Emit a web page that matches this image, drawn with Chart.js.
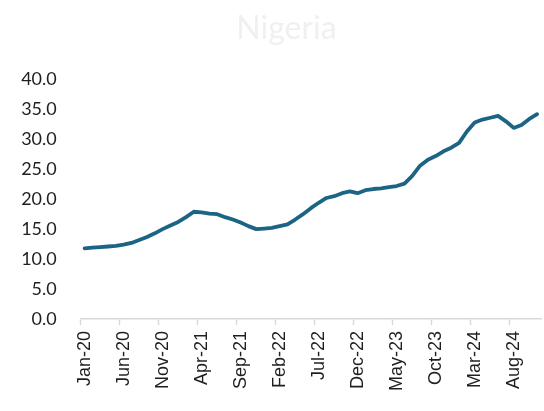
<!DOCTYPE html>
<html>
<head>
<meta charset="utf-8">
<script src="https://cdn.jsdelivr.net/npm/chart.js@4"></script>
<style>
  html, body { margin: 0; padding: 0; background: #fff; }
  #wrap { width: 544px; height: 411px; }
</style>
</head>
<body>
<div id="wrap"><canvas id="chart" width="544" height="411"></canvas></div>
<script>
// monthly categories, Jan-20 .. Nov-24
var months = ["Jan", "Feb", "Mar", "Apr", "May", "Jun", "Jul", "Aug", "Sep", "Oct", "Nov", "Dec"];
var years = ["20", "21", "22", "23", "24"];
var categories = [];
years.forEach(function (y) {
    months.forEach(function (m) {
        categories.push(m + "-" + y);
    });
});
categories = categories.slice(0, 59);

// values
var inflation = [
    11.8, 11.9, 12.0, 12.1, 12.2, 12.4, 12.7, 13.2, 13.7, 14.3, 15.0, 15.6,
    16.2, 17.0, 17.9, 17.8, 17.6, 17.5, 17.0, 16.6, 16.1, 15.5, 15.0, 15.1,
    15.2, 15.5, 15.8, 16.6, 17.5, 18.5, 19.4, 20.2, 20.5, 21.0, 21.3, 21.0,
    21.5, 21.7, 21.8, 22.0, 22.2, 22.6, 23.9, 25.6, 26.6, 27.2, 28.0, 28.6,
    29.4, 31.3, 32.8, 33.3, 33.6, 33.9, 33.0, 31.9, 32.4, 33.4, 34.2
];

// every 5th month gets a label
var labelEvery = 5;

// title sits a little right of the canvas centre in the original
var shiftTitle = {
    id: "shiftTitle",
    afterLayout: function (chart) {
        if (chart.titleBlock)
            chart.titleBlock.left += 32;
    }
};

var ctx = document.getElementById("chart").getContext("2d");

new Chart(ctx, {
    type: "line",
    data: {
        labels: categories,
        datasets: [{
            label: "Nigeria",
            data: inflation,
            borderColor: "#1b6485",
            borderWidth: 3.8,
            borderCapStyle: "round",
            borderJoinStyle: "round",
            pointRadius: 0,
            tension: 0,
            fill: false
        }]
    },
    options: {
        responsive: false,
        animation: false,
        layout: {
            padding: { top: 0, right: 3, bottom: 14, left: 0 }
        },
        plugins: {
            legend: { display: false },
            tooltip: { enabled: false },
            title: {
                display: true,
                text: "Nigeria",
                color: "#f0f0f0",
                font: { family: "Lato", size: 32, weight: "normal" },
                padding: { top: 9, bottom: 32 }
            }
        },
        scales: {
            x: {
                type: "category",
                offset: true,
                afterFit: function (scale) {
                    // keep the plot running to the right edge like the original
                    scale.paddingLeft = 0;
                    scale.paddingRight = 0;
                },
                grid: {
                    display: true,
                    offset: true,
                    drawOnChartArea: false,
                    drawTicks: true,
                    tickLength: 6,
                    tickWidth: 1.5,
                    tickColor: function (c) {
                        return c.index % labelEvery === 0 ? "#d9d9d9" : "rgba(0,0,0,0)";
                    }
                },
                border: { display: true, color: "#d9d9d9", width: 1.5 },
                ticks: {
                    autoSkip: false,
                    maxRotation: 90,
                    minRotation: 90,
                    padding: 6,
                    color: "#1f1f1f",
                    font: { family: "Liberation Sans", size: 18 },
                    callback: function (v, i) {
                        return i % labelEvery === 0 ? categories[i] : "";
                    }
                }
            },
            y: {
                min: 0,
                max: 40,
                afterFit: function (scale) { scale.width = 80.7; },
                grid: { display: false, drawTicks: false },
                border: { display: false },
                ticks: {
                    stepSize: 5,
                    padding: 24,
                    color: "#1f1f1f",
                    font: { family: "Lato", size: 18 },
                    callback: function (v) { return Number(v).toFixed(1); }
                }
            }
        }
    },
    plugins: [shiftTitle]
});
</script>
</body>
</html>
